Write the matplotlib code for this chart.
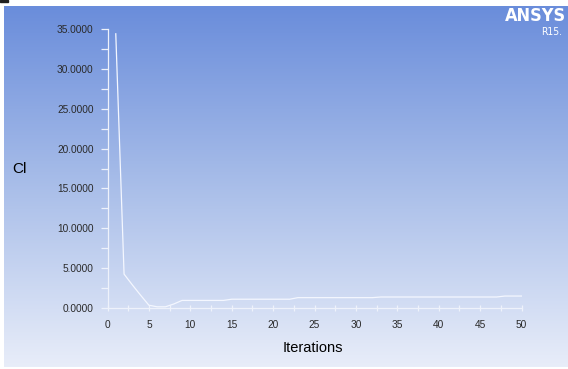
import numpy as np
import matplotlib
matplotlib.use("Agg")
import matplotlib.pyplot as plt
from matplotlib.ticker import MultipleLocator, FormatStrFormatter
from matplotlib.colors import LinearSegmentedColormap

# ---- data ----
iterations = list(range(1, 51))
cl_values = [34.4, 4.25, 2.9, 1.6, 0.35, 0.15, 0.15, 0.5, 0.95, 0.95,
             0.95, 0.95, 0.95, 0.95, 1.1, 1.1, 1.1, 1.1, 1.1, 1.1,
             1.1, 1.1, 1.3, 1.3, 1.3, 1.3, 1.3, 1.3, 1.3, 1.3,
             1.3, 1.3, 1.38, 1.38, 1.38, 1.38, 1.38, 1.38, 1.38, 1.38,
             1.38, 1.38, 1.38, 1.38, 1.38, 1.38, 1.38, 1.5, 1.5, 1.5]
x_label = "Iterations"
y_label = "Cl"

W, H = 568, 369
fig = plt.figure(figsize=(W / 100, H / 100), dpi=100)
fig.patch.set_facecolor("white")

# gradient background
bg = fig.add_axes([4 / W, 2 / H, 1 - 4 / W, 1 - 8 / H])
cmap = LinearSegmentedColormap.from_list("bg", ["#6a8ddb", "#a9bee9", "#e8edf9"])
grad = np.linspace(0, 1, 256).reshape(-1, 1)
bg.imshow(grad, aspect="auto", cmap=cmap, extent=[0, 1, 0, 1], origin="upper")
bg.set_axis_off()

# tiny dark mark at top-left corner
fig.patches.append(plt.Rectangle((0, 1 - 2 / H), 8 / W, 2 / H, transform=fig.transFigure,
                                 color="#202020", zorder=5))

ax = fig.add_axes([107.5 / W, 1 - 308 / H, (521.5 - 107.5) / W, (308 - 29) / H])
ax.set_facecolor("none")
ax.plot(iterations, cl_values, color="#f4f7ff", lw=0.9)
ax.set_xlim(0, 50)
ax.set_ylim(0, 35)
for s in ["top", "right"]:
    ax.spines[s].set_visible(False)
for s in ["left", "bottom"]:
    ax.spines[s].set_color("#eef2fb")
    ax.spines[s].set_linewidth(0.9)

ax.xaxis.set_major_locator(MultipleLocator(5))
ax.xaxis.set_minor_locator(MultipleLocator(2.5))
ax.yaxis.set_major_locator(MultipleLocator(5))
ax.yaxis.set_minor_locator(MultipleLocator(2.5))
ax.yaxis.set_major_formatter(FormatStrFormatter("%.4f"))

ax.tick_params(axis="y", which="both", direction="out", length=5, width=0.9,
               color="#eef2fb", labelcolor="#2a2a2a", labelsize=7.3, pad=5)
ax.tick_params(axis="x", which="both", direction="inout", length=5, width=0.9,
               color="#eef2fb", labelcolor="#2a2a2a", labelsize=7.3, pad=6)
for lab in ax.get_xticklabels() + ax.get_yticklabels():
    lab.set_fontfamily("Liberation Sans")

fig.text(19 / W, 1 - 169 / H, y_label, ha="center", va="center",
         family="Liberation Sans", fontsize=11, color="black")
fig.text(313 / W, 1 - 348 / H, x_label, ha="center", va="center",
         family="Liberation Sans", fontsize=10.5, color="black")

fig.text(566 / W, 1 - 16 / H, "ANSYS", ha="right", va="center", color="white",
         family="DejaVu Sans", fontstretch="condensed", fontweight="bold", fontsize=13)
fig.text(541 / W, 1 - 32 / H, "R15.", ha="left", va="center", color="white",
         family="DejaVu Sans", fontstretch="condensed", fontsize=7.5)

fig.savefig("out.png", dpi=100)
